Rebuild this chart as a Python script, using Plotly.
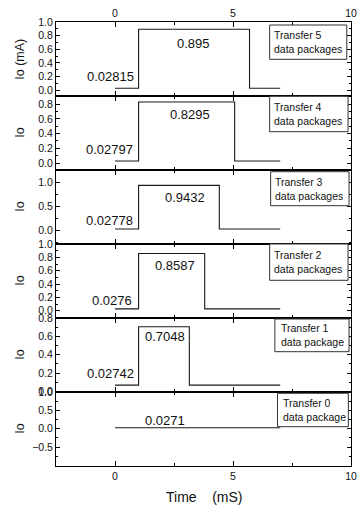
import plotly.graph_objects as go

# ---------------- data ----------------
packages = [5, 4, 3, 2, 1, 0]
legend_lines = ["Transfer 5<br>data packages", "Transfer 4<br>data packages",
                "Transfer 3<br>data packages", "Transfer 2<br>data packages",
                "Transfer 1<br>data package", "Transfer 0<br>data package"]
base_current = [0.02815, 0.02797, 0.02778, 0.0276, 0.07, 0.0271]
peak_current = [0.895, 0.8295, 0.9432, 0.8587, 0.7048, None]
base_labels = ["0.02815", "0.02797", "0.02778", "0.0276", "0.02742", "0.0271"]
peak_labels = ["0.895", "0.8295", "0.9432", "0.8587", "0.7048", None]
t_start = [0, 0, 0, 0, 0, 0]
t_rise = [1.0, 1.0, 1.0, 1.0, 1.0, None]
t_fall = [5.7, 5.07, 4.42, 3.8, 3.15, None]
t_end = [7, 7, 7, 7, 7, 7]

# ---------------- layout helpers ----------------
W, H = 363, 509
L, R, T, B = 56, 6, 22, 43
PW, PH = W - L - R, H - T - B


def px(x):
    return (x - L) / PW


def py(y):
    return (H - B - y) / PH


y_ranges = [[-0.085, 1.0005], [-0.095, 0.91], [-0.285, 1.265],
            [-0.11, 1.0005], [-0.005, 0.8005], [-1.016, 1.0005]]
y_ticks = [[0, 0.2, 0.4, 0.6, 0.8, 1.0], [0, 0.2, 0.4, 0.6, 0.8],
           [0, 0.5, 1.0], [0, 0.2, 0.4, 0.6, 0.8, 1.0],
           [0, 0.2, 0.4, 0.6, 0.8], [-0.5, 0, 0.5, 1.0]]
y_minor = [0.1, 0.1, 0.25, 0.1, 0.1, 0.25]
y_titles = ["Io (mA)", "Io", "Io", "Io", "Io", "Io"]

# label positions in pixels
base_lbl_pos = [(137.7, 76), (136.7, 149.3), (136.7, 220), (135.7, 300), (137.3, 373.3), None]
peak_lbl_pos = [(196.7, 43.3), (192.7, 115), (187.7, 197.3), (177.7, 265), (167.7, 336.7), (167.7, 420)]
box_pos = [(274, 25, 352.7, 59.3), (274, 96.3, 354, 131.7), (275, 171.7, 355, 205.7),
           (274, 244, 354, 280.3), (279.3, 319, 355, 351.7), (282, 393.3, 354.3, 426.7)]
text_left = [277.5, 277.5, 278.5, 277.5, 284.5, 287]

FONT = "Liberation Sans, Arial, sans-serif"
fig = go.Figure()
layout = {}
annotations = []
shapes = []

for i in range(6):
    n = "" if i == 0 else str(i + 1)
    xs = [t_start[i]]
    ys = [base_current[i]]
    if t_rise[i] is not None:
        xs += [t_rise[i], t_fall[i]]
        ys += [peak_current[i], base_current[i]]
    xs.append(t_end[i])
    ys.append(base_current[i])
    fig.add_trace(go.Scatter(x=xs, y=ys, mode="lines", line=dict(color="#1a1a1a", width=1.1, shape="hv"),
                             xaxis="x" + n, yaxis="y" + n, showlegend=False, hoverinfo="skip"))

    top = 1 - i / 6
    bot = 1 - (i + 1) / 6
    xa = dict(domain=[0, 1], anchor="y" + n, range=[-2.5, 10], tickvals=[0, 5, 10],
              ticks="inside", ticklen=5, tickwidth=1, tickcolor="black",
              showline=True, linecolor="black", linewidth=1, mirror="ticks",
              showgrid=False, zeroline=False,
              minor=dict(ticks="inside", ticklen=3, tickvals=[2.5, 7.5], tickcolor="black", showgrid=False),
              tickfont=dict(family=FONT, size=10.5, color="#111"),
              showticklabels=(i == 0 or i == 5))
    if i == 0:
        xa["side"] = "top"
    else:
        xa["matches"] = "x"
    ya = dict(domain=[bot, top], anchor="x" + n, range=y_ranges[i], tickvals=y_ticks[i],
              tickformat=".1f", ticks="inside", ticklen=4, tickwidth=1, tickcolor="black",
              showline=True, linecolor="black", linewidth=1, mirror="ticks",
              showgrid=False, zeroline=False,
              minor=dict(ticks="inside", ticklen=2, dtick=y_minor[i], tick0=0, tickcolor="black", showgrid=False),
              tickfont=dict(family=FONT, size=10.5, color="#111"))
    layout["xaxis" + n] = xa
    layout["yaxis" + n] = ya

    # y title
    annotations.append(dict(xref="paper", yref="paper", x=px(19), y=(top + bot) / 2,
                            text=y_titles[i], textangle=-90, showarrow=False,
                            xanchor="center", yanchor="middle",
                            font=dict(family=FONT, size=12.5, color="#111")))
    # value labels
    if base_lbl_pos[i] is not None:
        bx, by = base_lbl_pos[i]
        annotations.append(dict(xref="paper", yref="paper", x=px(bx), y=py(by), text=base_labels[i],
                                showarrow=False, xanchor="right", yanchor="middle",
                                font=dict(family=FONT, size=13, color="#111")))
    cx, cy = peak_lbl_pos[i]
    txt = peak_labels[i] if peak_labels[i] is not None else base_labels[i]
    annotations.append(dict(xref="paper", yref="paper", x=px(cx), y=py(cy), text=txt,
                            showarrow=False, xanchor="center", yanchor="middle",
                            font=dict(family=FONT, size=13, color="#111")))
    # legend box
    x0, y0, x1, y1 = box_pos[i]
    shapes.append(dict(type="rect", xref="paper", yref="paper", x0=px(x0), x1=px(x1), y0=py(y1), y1=py(y0),
                       line=dict(color="#333", width=1), fillcolor="white", layer="above"))
    annotations.append(dict(xref="paper", yref="paper", x=px(text_left[i]), y=py((y0 + y1) / 2),
                            text=legend_lines[i], showarrow=False, xanchor="left", yanchor="middle",
                            align="left", borderpad=0,
                            font=dict(family=FONT, size=10.5, color="#111")))

annotations.append(dict(xref="paper", yref="paper", x=px(206.5), y=py(497), text="Time\u00a0\u00a0\u00a0 (mS)",
                        showarrow=False, xanchor="center", yanchor="middle",
                        font=dict(family=FONT, size=14, color="#111")))

fig.update_layout(width=W, height=H, margin=dict(l=L, r=R, t=T, b=B),
                  paper_bgcolor="white", plot_bgcolor="white",
                  annotations=annotations, shapes=shapes, **layout)
fig.write_html("out.html", config={"displayModeBar": False},
               post_script="document.body.style.margin='0';document.body.style.padding='0';"
                           "document.body.style.overflow='hidden';")
